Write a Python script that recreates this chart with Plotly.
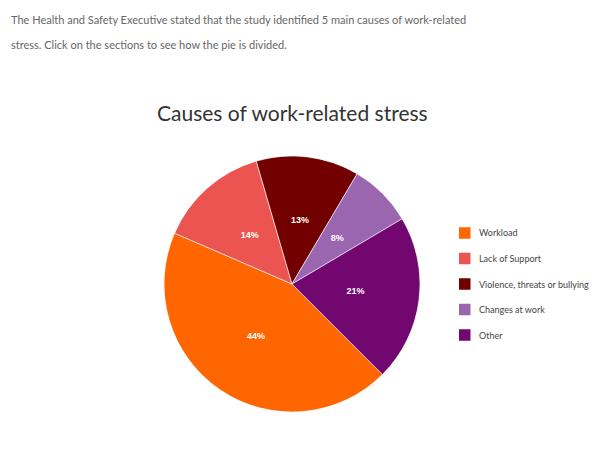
import plotly.graph_objects as go

# data
causes = ['Workload', 'Lack of Support', 'Violence, threats or bullying', 'Changes at work', 'Other']
shares = [44, 14, 13, 8, 21]
colours = ['#ff6600', '#eb5450', '#730000', '#9a66b0', '#71076f']

intro_lines = ['The Health and Safety Executive stated that the study identified 5 main causes of work-related',
               'stress. Click on the sections to see how the pie is divided.']
title = 'Causes of work-related stress'

W, H = 614, 460
OFF = 8  # page body margin in the browser


def px(x):
    return (x - OFF) / W


def py(y):
    return 1 - (y - OFF) / H


# slice centre angles (degrees, clockwise) from the shares
total = sum(shares)
widths = [s * 360 / total for s in shares]
mids = []
acc = 0
for w in widths:
    mids.append(acc + w / 2)
    acc += w

fig = go.Figure()

# pie drawn as full-radius polar wedges
fig.add_trace(go.Barpolar(
    r=[1] * len(shares),
    theta=mids,
    width=widths,
    marker=dict(color=colours, line=dict(color='white', width=0.6)),
    customdata=causes,
    hovertemplate='%{customdata}<extra></extra>',
    showlegend=False,
))
# percentage labels at half radius
fig.add_trace(go.Scatterpolar(
    r=[0.5] * len(shares),
    theta=mids,
    mode='text',
    text=[f'{round(s * 100 / total)}%' for s in shares],
    textfont=dict(family='Arial', size=9, color='white', weight='bold'),
    hoverinfo='skip',
    showlegend=False,
))

fig.update_layout(
    polar=dict(
        domain=dict(x=[px(164), px(420)], y=[py(412), py(156)]),
        bgcolor='rgba(0,0,0,0)',
        hole=0,
        radialaxis=dict(range=[0, 1], visible=False),
        angularaxis=dict(rotation=-45, direction='clockwise', showgrid=False,
                         showticklabels=False, showline=False, ticks=''),
    ),
)

# intro paragraph
for i, line in enumerate(intro_lines):
    fig.add_annotation(
        text=line, x=px(10), y=py(20 + i * 25), xref='paper', yref='paper',
        xanchor='left', yanchor='middle', align='left', showarrow=False,
        borderpad=0, font=dict(family='Lato', size=11, color='#666666'),
    )
# chart title
fig.add_annotation(
    text=title, x=px(292), y=py(112), xref='paper', yref='paper',
    xanchor='center', yanchor='middle', showarrow=False,
    font=dict(family='Lato', size=21, color='#333333'),
)

# hand-made legend, one row per cause
for i, (name, col) in enumerate(zip(causes, colours)):
    yc = 233 + i * 25.5
    fig.add_shape(
        type='rect', xref='paper', yref='paper',
        x0=px(459), x1=px(470.5), y0=py(yc + 5.75), y1=py(yc - 5.75),
        fillcolor=col, line=dict(width=0),
    )
    fig.add_annotation(
        text=name, x=px(477), y=py(yc), xref='paper', yref='paper',
        xanchor='left', yanchor='middle', showarrow=False,
        font=dict(family='Lato', size=9, color='#444444'),
    )

fig.update_layout(
    width=W, height=H,
    margin=dict(l=0, r=0, t=0, b=0),
    paper_bgcolor='white',
    plot_bgcolor='white',
)

fig.write_html("out.html")
